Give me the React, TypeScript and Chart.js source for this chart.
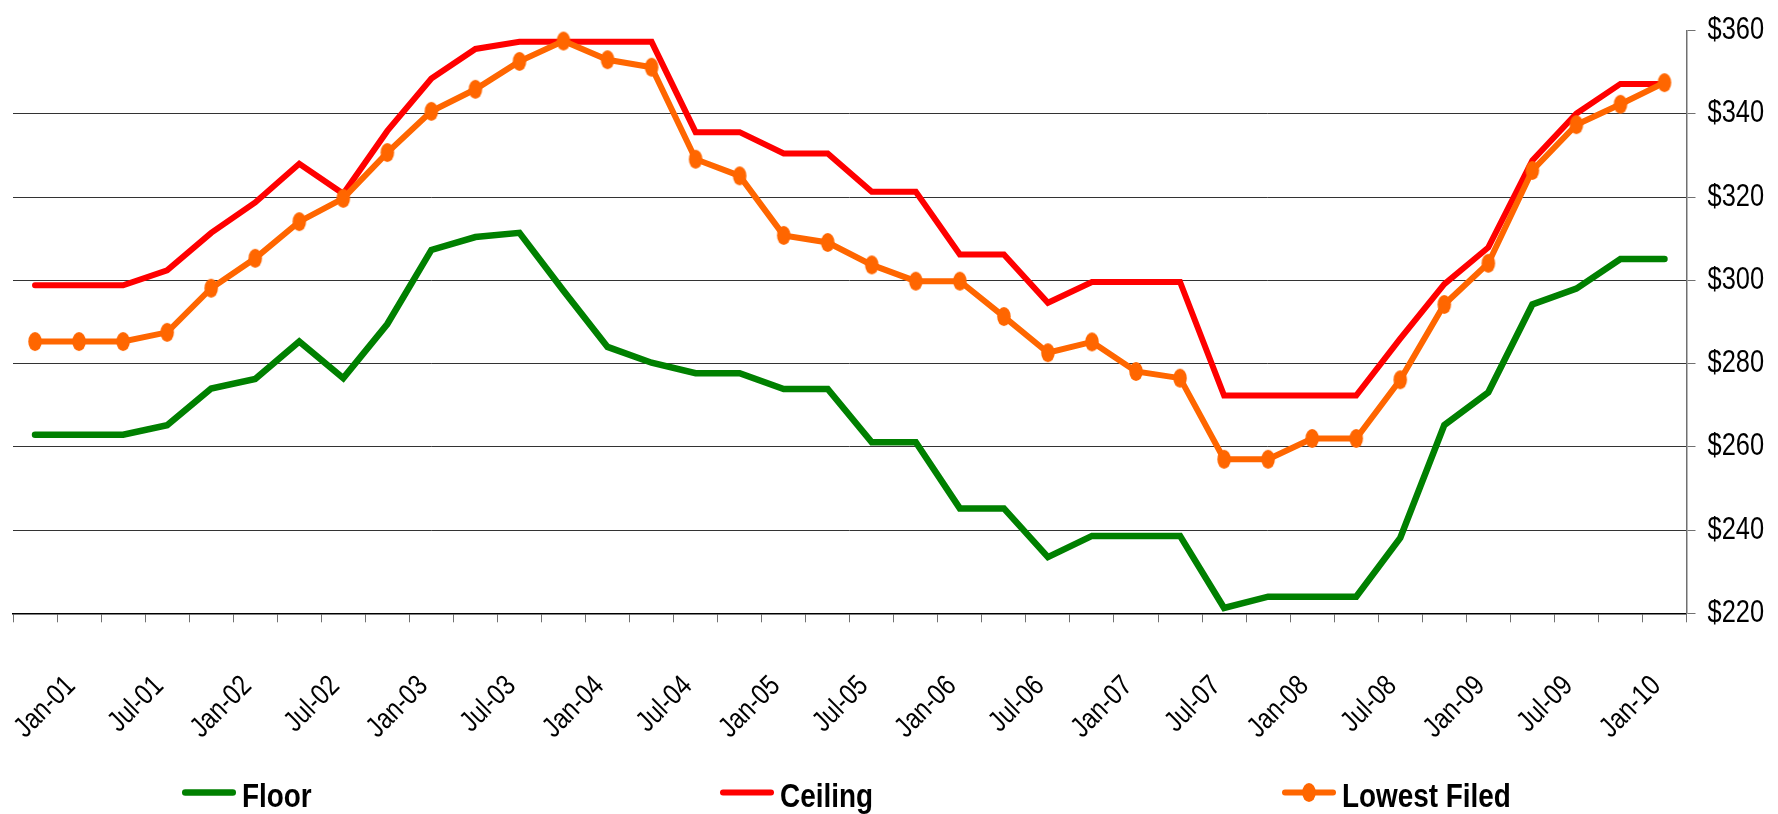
import React, { useEffect, useRef } from 'react';
import { Chart, registerables } from 'chart.js';

Chart.register(...registerables);

const quarters = [
  'Oct-00', 'Jan-01', 'Apr-01', 'Jul-01', 'Oct-01', 'Jan-02', 'Apr-02', 'Jul-02', 'Oct-02',
  'Jan-03', 'Apr-03', 'Jul-03', 'Oct-03', 'Jan-04', 'Apr-04', 'Jul-04', 'Oct-04',
  'Jan-05', 'Apr-05', 'Jul-05', 'Oct-05', 'Jan-06', 'Apr-06', 'Jul-06', 'Oct-06',
  'Jan-07', 'Apr-07', 'Jul-07', 'Oct-07', 'Jan-08', 'Apr-08', 'Jul-08', 'Oct-08',
  'Jan-09', 'Apr-09', 'Jul-09', 'Oct-09', 'Jan-10',
];

const floorValues = [
  262.9, 262.9, 262.9, 265.2, 274.0, 276.3, 285.3, 276.5, 289.5, 307.3, 310.4, 311.4, 297.5,
  284.0, 280.2, 277.7, 277.7, 273.9, 273.9, 261.1, 261.1, 245.2, 245.2, 233.5, 238.6, 238.6,
  238.6, 221.3, 224.0, 224.0, 224.0, 238.1, 265.2, 273.1, 294.2, 298.0, 305.1, 305.1,
];

const ceilingValues = [
  298.8, 298.8, 298.8, 302.4, 311.4, 318.7, 328.0, 320.8, 335.9, 348.5, 355.6, 357.3, 357.3,
  357.3, 357.3, 335.6, 335.6, 330.5, 330.5, 321.3, 321.3, 306.2, 306.2, 294.6, 299.6, 299.6,
  299.6, 272.3, 272.3, 272.3, 272.3, 286.0, 299.1, 307.9, 328.8, 340.1, 347.2, 347.2,
];

const lowestFiledValues = [
  285.3, 285.3, 285.3, 287.5, 298.1, 305.3, 314.1, 319.7, 330.7, 340.6, 345.9, 352.6, 357.5,
  353.0, 351.2, 329.1, 325.1, 310.8, 309.1, 303.7, 299.8, 299.8, 291.3, 282.6, 285.2, 278.1,
  276.5, 257.0, 257.0, 262.0, 262.0, 276.1, 294.2, 304.1, 326.4, 337.4, 342.3, 347.5,
];

const yTicks = [220, 240, 260, 280, 300, 320, 340, 360];

const FONT = "'Liberation Sans', Arial, sans-serif";
const CONDENSE = 0.82;

const LEGEND_X = [182, 720, 1282];
const LEGEND_LINE_Y = 792.5;
const LEGEND_TEXT_BASELINE = 806.5;
const LEGEND_LINE = 54;

function makeEllipse(w: number, h: number, color: string) {
  const c = document.createElement('canvas');
  c.width = Math.ceil(w) + 2;
  c.height = Math.ceil(h) + 2;
  const g = c.getContext('2d')!;
  g.fillStyle = color;
  g.beginPath();
  g.ellipse(c.width / 2, c.height / 2, w / 2, h / 2, 0, 0, Math.PI * 2);
  g.fill();
  return c;
}

// Narrow (Arial-Narrow-like) text: compress every glyph run horizontally about its anchor.
function condenseText(ctx: CanvasRenderingContext2D, k: number) {
  const fill = ctx.fillText.bind(ctx);
  const measure = ctx.measureText.bind(ctx);
  (ctx as any).fillText = (text: string, x: number, y: number, maxWidth?: number) => {
    ctx.save();
    ctx.translate(x, y);
    ctx.scale(k, 1);
    if (maxWidth === undefined || maxWidth === null) fill(text, 0, 0);
    else fill(text, 0, 0, maxWidth / k);
    ctx.restore();
  };
  (ctx as any).measureText = (text: string) => {
    const m = measure(text);
    return {
      width: m.width * k,
      actualBoundingBoxLeft: m.actualBoundingBoxLeft * k,
      actualBoundingBoxRight: m.actualBoundingBoxRight * k,
      actualBoundingBoxAscent: m.actualBoundingBoxAscent,
      actualBoundingBoxDescent: m.actualBoundingBoxDescent,
      fontBoundingBoxAscent: m.fontBoundingBoxAscent,
      fontBoundingBoxDescent: m.fontBoundingBoxDescent,
    };
  };
}

const bottomLegend = {
  id: 'bottomLegend',
  afterDraw(chart: any) {
    const ctx = chart.ctx as CanvasRenderingContext2D;
    chart.data.datasets.forEach((ds: any, i: number) => {
      const x = LEGEND_X[i];
      const w = ds.borderWidth;
      ctx.save();
      ctx.strokeStyle = ds.borderColor;
      ctx.lineWidth = w;
      ctx.lineCap = 'round';
      ctx.beginPath();
      ctx.moveTo(x + w / 2, LEGEND_LINE_Y);
      ctx.lineTo(x + LEGEND_LINE - w / 2, LEGEND_LINE_Y);
      ctx.stroke();
      if (ds.pointStyle && typeof ds.pointStyle === 'object') {
        const img = ds.pointStyle as HTMLCanvasElement;
        ctx.drawImage(img, x + LEGEND_LINE / 2 - img.width / 2, LEGEND_LINE_Y - img.height / 2);
      }
      ctx.fillStyle = '#000';
      ctx.font = `bold 34px ${FONT}`;
      ctx.textBaseline = 'alphabetic';
      ctx.textAlign = 'left';
      ctx.fillText(ds.label, x + LEGEND_LINE + 6, LEGEND_TEXT_BASELINE);
      ctx.restore();
    });
  },
};

export default function App() {
  const ref = useRef<HTMLCanvasElement | null>(null);

  useEffect(() => {
    const canvas = ref.current;
    if (!canvas) return;
    const ctx = canvas.getContext('2d')!;
    condenseText(ctx, CONDENSE);
    const marker = makeEllipse(13.5, 19, '#FF6600');

    const chart = new Chart(ctx, {
      type: 'line',
      data: {
        labels: quarters,
        datasets: [
          {
            label: 'Floor',
            data: floorValues,
            borderColor: '#008000',
            backgroundColor: '#008000',
            borderWidth: 6.5,
            pointRadius: 0,
            borderCapStyle: 'round',
            tension: 0,
            order: 2,
          },
          {
            label: 'Ceiling',
            data: ceilingValues,
            borderColor: '#FF0000',
            backgroundColor: '#FF0000',
            borderWidth: 6,
            pointRadius: 0,
            borderCapStyle: 'round',
            tension: 0,
            order: 1,
          },
          {
            label: 'Lowest Filed',
            data: lowestFiledValues,
            borderColor: '#FF6600',
            backgroundColor: '#FF6600',
            pointStyle: marker as any,
            pointRadius: 7,
            borderWidth: 6,
            borderCapStyle: 'round',
            tension: 0,
            order: 0,
          },
        ],
      },
      options: {
        responsive: false,
        animation: false,
        layout: { padding: { left: 11.5, right: 0, top: 22.3, bottom: 50.7 } },
        plugins: {
          legend: { display: false },
          tooltip: { enabled: false },
        },
        scales: {
          x: {
            offset: true,
            grid: {
              display: true,
              offset: true,
              drawOnChartArea: false,
              drawTicks: true,
              tickLength: 9,
              tickColor: '#707070',
            },
            border: { display: true, color: '#000000', width: 1.5 },
            ticks: {
              autoSkip: false,
              minRotation: 45,
              maxRotation: 45,
              padding: 47,
              labelOffset: -8,
              color: '#000',
              font: { size: 29, family: FONT },
              callback: (_v: any, i: number) => (i % 2 === 1 ? quarters[i] : ''),
            },
            afterFit: (s: any) => {
              s.height = 150;
              s.paddingLeft = 0;
              s.paddingRight = 0;
            },
          },
          y: {
            position: 'right',
            min: yTicks[0],
            max: yTicks[yTicks.length - 1],
            afterBuildTicks: (s: any) => {
              s.ticks = yTicks.map((v) => ({ value: v }));
            },
            grid: {
              color: (c: any) => (c.tick && c.tick.value === 360 ? 'rgba(0,0,0,0)' : '#333333'),
              tickColor: '#707070',
              tickLength: 9,
              lineWidth: 1,
            },
            border: { display: true, color: '#707070', width: 1.5 },
            ticks: {
              padding: 12,
              color: '#000',
              font: { size: 31, family: FONT },
              callback: (v: any) => '$' + v,
            },
            afterFit: (s: any) => {
              s.width = 1778 - 1686.5;
            },
          },
        },
      },
      plugins: [bottomLegend],
    });
    return () => chart.destroy();
  }, []);

  return (
    <div style={{ position: 'fixed', left: 0, top: 0, width: 1778, height: 814, background: '#fff' }}>
      <canvas ref={ref} width={1778} height={814} style={{ display: 'block', width: 1778, height: 814 }} />
    </div>
  );
}
